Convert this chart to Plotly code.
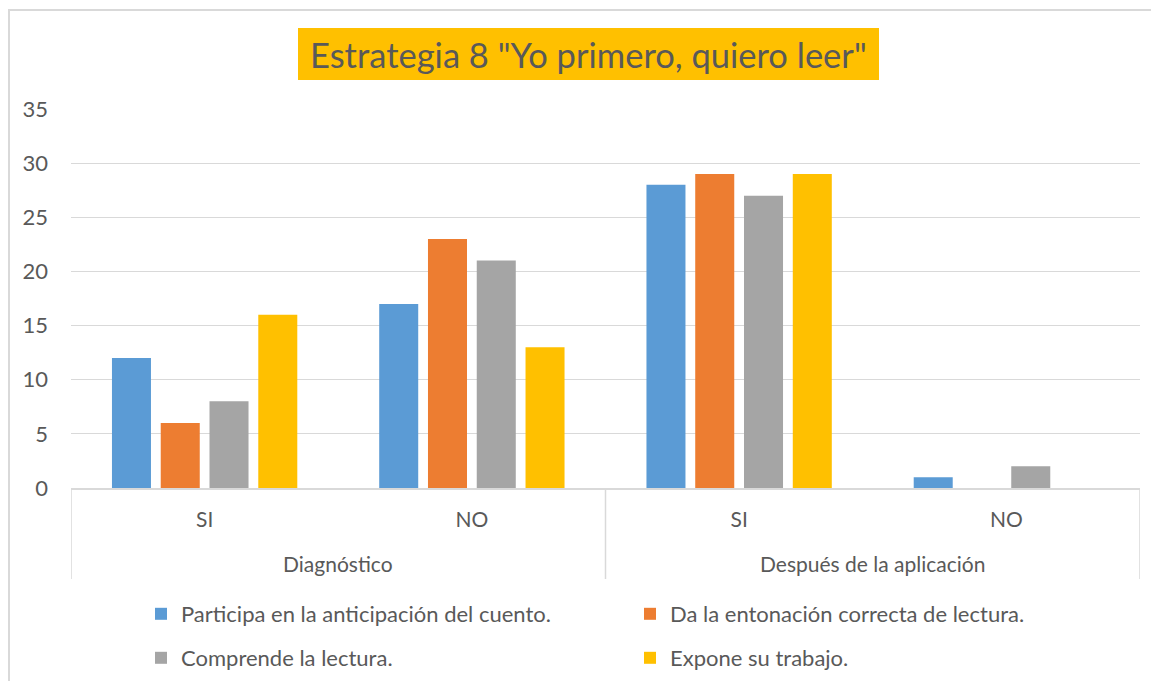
import plotly.graph_objects as go

# datos del gráfico
etapas = ["Diagnóstico", "Después de la aplicación"]
respuestas = ["SI", "NO", "SI", "NO"]

participa = [12, 17, 28, 1]
entonacion = [6, 23, 29, 0]
comprende = [8, 21, 27, 2]
expone = [16, 13, 29, 0]

nombres = ["Participa en la anticipación del cuento.",
           "Da la entonación correcta de lectura.",
           "Comprende la lectura.",
           "Expone su trabajo."]
colores = ["#5B9BD5", "#ED7D31", "#A5A5A5", "#FFC000"]
valores = [participa, entonacion, comprende, expone]

# la página tiene 8px de margen, así que todo va desplazado
OFF = 8
W, H = 1159 - 2 * OFF, 689 - 2 * OFF
L, T = 71 - OFF, 109 - OFF
R, B = W - (1140 - OFF), H - (488 - OFF)
pw, ph = W - L - R, H - T - B


def px_x(x):
    return (x - OFF - L) / pw


def px_y(y):
    return 1 - (y - OFF - T) / ph


pos = list(range(len(respuestas)))

fig = go.Figure()
for i, (nombre, vals, color) in enumerate(zip(nombres, valores, colores)):
    fig.add_trace(go.Bar(x=pos, y=vals, name=nombre,
                         legend="legend" if i < 2 else "legend2",
                         marker=dict(color=color, line=dict(width=0))))

font = "Lato, 'Open Sans', sans-serif"
txt = "#595959"
grid = "#D9D9D9"

leg = dict(orientation="h", xanchor="left", yanchor="middle",
           entrywidth=444, entrywidthmode="pixels",
           font=dict(size=22, color=txt), itemwidth=30,
           bgcolor="rgba(0,0,0,0)")

# etiquetas del nivel superior y divisores
n_in = len(respuestas) // len(etapas)
anots = []
shapes = []
for j, etapa in enumerate(etapas):
    anots.append(dict(text=etapa, xref="x", yref="paper",
                      x=j * n_in + (n_in - 1) / 2, y=px_y(563),
                      xanchor="center", yanchor="middle", showarrow=False,
                      font=dict(size=21, color=txt)))
for k in range(len(etapas) + 1):
    shapes.append(dict(type="line", xref="x", yref="paper",
                       x0=k * n_in - 0.5, x1=k * n_in - 0.5,
                       y0=0, y1=px_y(579),
                       line=dict(color=grid, width=1.5)))

# recuadro del título
shapes.append(dict(type="rect", xref="paper", yref="paper",
                   x0=px_x(298), x1=px_x(879), y0=px_y(80), y1=px_y(28),
                   fillcolor="#FFC000", line=dict(width=0)))
anots.append(dict(
    text='Estrategia 8 "Yo primero, quiero leer"',
    xref="paper", yref="paper", x=px_x(588), y=px_y(54),
    xanchor="center", yanchor="middle", showarrow=False,
    font=dict(size=34.5, color=txt, family=font)))

# borde del gráfico (sólo se ven el lado izquierdo y el superior)
shapes.append(dict(type="rect", xref="paper", yref="paper",
                   x0=px_x(9), x1=px_x(1180), y0=px_y(720), y1=px_y(10),
                   line=dict(color=grid, width=2), layer="below"))

fig.update_layout(
    width=W, height=H,
    margin=dict(l=L, r=R, t=T, b=B, autoexpand=False),
    paper_bgcolor="white", plot_bgcolor="white",
    barmode="group", bargap=0.27, bargroupgap=0.2,
    font=dict(family=font, size=21, color=txt),
    showlegend=True,
    legend=dict(leg, x=px_x(141), y=px_y(614)),
    legend2=dict(leg, x=px_x(141), y=px_y(658)),
    yaxis=dict(range=[0, 35], dtick=5, showgrid=True, gridcolor=grid,
               gridwidth=1.3, zeroline=False, showline=False,
               ticks="", ticklabelstandoff=22,
               tickfont=dict(size=22, color=txt)),
    xaxis=dict(range=[-0.5, len(respuestas) - 0.5],
               tickvals=pos, ticktext=respuestas,
               showline=True, linecolor=grid, linewidth=1.5,
               showgrid=False, ticks="", ticklabelstandoff=12,
               tickfont=dict(size=21, color=txt)),
    annotations=anots,
    shapes=shapes,
)

fig.write_html("out.html")
